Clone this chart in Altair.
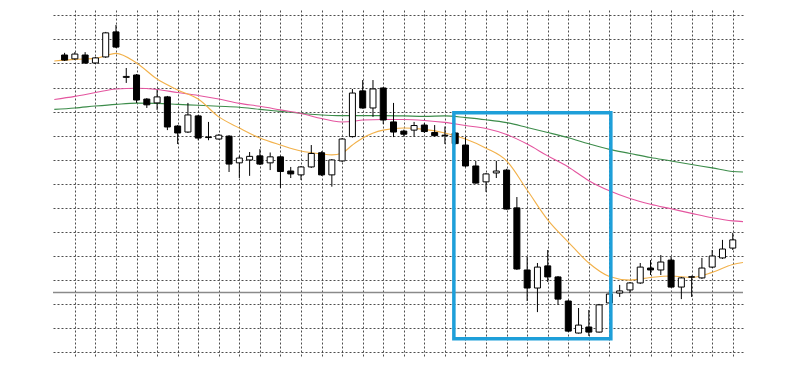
import altair as alt
import pandas as pd

# ---- candle data (index, open, high, low, close) ----
opens = [123.5, 121.9, 123.5, 120.2, 122.7, 133.1, 114.2, 115.2, 105.2, 103.6,
         106.1, 94.0, 91.5, 98.2, 89.2, 88.6, 89.8, 78.7, 79.9, 81.6,
         78.7, 81.2, 75.3, 73.7, 77.0, 82.9, 73.7, 79.5, 89.6, 108.6,
         101.5, 109.8, 95.7, 91.9, 92.3, 94.4, 91.3, 90.0, 91.1, 86.1,
         77.4, 70.8, 74.5, 75.7, 60.0, 34.2, 26.7, 35.9, 31.3, 21.3,
         8.0, 10.5, 8.4, 20.5, 24.6, 25.9, 28.8, 35.0, 34.2, 38.3,
         27.1, 31.2, 30.9, 35.4, 39.2, 43.3]
highs = [124.4, 124.7, 124.7, 122.7, 133.1, 136.0, 118.1, 115.6, 105.6, 109.0,
         106.5, 94.4, 103.6, 98.6, 95.7, 90.6, 90.2, 81.6, 83.2, 84.4,
         83.0, 81.6, 77.0, 77.4, 86.1, 83.5, 80.3, 89.0, 109.4, 113.1,
         113.1, 110.2, 103.6, 92.5, 95.7, 95.2, 94.4, 93.8, 91.5, 89.4,
         79.5, 74.5, 79.5, 76.2, 64.5, 39.6, 37.1, 42.5, 31.7, 21.7,
         18.4, 17.6, 20.1, 25.9, 28.0, 29.2, 37.1, 38.3, 40.4, 39.6,
         31.3, 31.8, 39.2, 42.5, 46.7, 49.6]
lows = [121.0, 121.4, 119.8, 119.8, 122.3, 126.4, 111.9, 103.6, 101.5, 100.7,
        92.3, 86.5, 91.1, 88.1, 88.1, 88.4, 74.9, 72.4, 73.3, 77.8,
        75.7, 68.3, 72.4, 71.6, 76.6, 73.3, 68.8, 79.0, 89.2, 101.2,
        97.8, 94.8, 89.4, 89.6, 89.6, 91.1, 89.6, 86.5, 86.3, 77.0,
        70.1, 66.6, 72.4, 59.3, 34.2, 21.3, 16.7, 29.2, 19.7, 8.4,
        7.8, 6.8, 8.2, 20.1, 23.0, 24.6, 28.4, 32.1, 32.1, 26.9,
        22.1, 23.0, 30.5, 35.0, 38.8, 42.5]
closes = [121.4, 123.9, 120.2, 122.3, 132.7, 126.8, 114.6, 104.8, 102.8, 106.1,
          93.6, 91.1, 98.6, 89.0, 89.4, 90.2, 78.2, 80.7, 81.4, 78.2,
          81.2, 75.1, 74.1, 77.0, 82.6, 73.7, 79.9, 88.6, 107.7, 101.5,
          109.4, 96.5, 91.5, 90.6, 94.2, 91.7, 90.0, 90.2, 86.7, 77.4,
          70.3, 74.1, 75.3, 59.5, 34.6, 26.7, 35.4, 31.3, 22.1, 8.8,
          11.3, 8.4, 19.7, 24.2, 25.5, 28.8, 35.4, 34.2, 37.5, 27.1,
          30.9, 31.4, 35.0, 40.0, 42.9, 46.7]

# ---- moving averages ----
ma_idx = [-1, 1, 3, 5, 7, 9, 11, 13, 15, 17, 19, 21, 23, 25, 26, 27, 28, 29, 31,
          33, 35, 37, 39, 41, 43, 45, 47, 49, 51, 53, 55, 57, 59, 61, 63, 65, 66]
ma_fast = [121.0, 121.7, 122.1, 124.2, 120.2, 113.5, 109.0, 105.2, 97.8, 93.2,
           89.0, 86.1, 83.6, 82.4, 82.0, 82.8, 86.1, 89.0, 92.3, 93.2,
           92.6, 91.1, 88.6, 84.8, 79.5, 67.4, 55.0, 45.8, 37.1, 31.5,
           30.0, 31.1, 31.7, 31.1, 33.2, 36.5, 37.3]
ma_mid = [105.0, 106.3, 107.9, 109.4, 109.7, 109.2, 107.9, 106.7, 105.2, 103.4,
          102.2, 100.7, 99.2, 97.1, 96.2, 95.7, 95.9, 96.5, 96.7, 96.7,
          96.3, 95.5, 94.2, 93.0, 90.5, 86.5, 81.6, 77.0, 71.3, 67.1,
          63.9, 61.5, 59.6, 57.7, 55.9, 54.6, 54.3]
ma_slow = [100.9, 101.5, 102.3, 103.0, 103.5, 103.4, 103.0, 102.6, 102.2, 101.8,
           100.9, 100.1, 99.3, 98.6, 98.4, 98.3, 98.3, 98.3, 98.3, 98.2,
           98.0, 98.2, 97.5, 96.6, 95.4, 93.4, 91.3, 89.1, 86.6, 84.3,
           82.6, 80.9, 79.5, 78.0, 76.6, 75.1, 74.9]

level = [24.8]                      # grey horizontal price line
box_x = [37.87, 53.14]              # highlighted region (candle index)
box_y = [5.65, 99.55]               # highlighted region (price)

x_ticks = list(range(1, 66, 2))
y_ticks = list(range(0, 141, 10))

n = len(opens)
candles = pd.DataFrame({
    "i": list(range(n)),
    "open": opens, "high": highs, "low": lows, "close": closes,
})
candles["lo"] = candles[["open", "close"]].min(axis=1)
candles["hi"] = candles[["open", "close"]].max(axis=1)
candles["fill"] = ["white" if c >= o else "black" for o, c in zip(opens, closes)]

ma_rows = []
for name, vals, col in [("slow", ma_slow, "#3c8c4a"), ("mid", ma_mid, "#e4559f"), ("fast", ma_fast, "#f2b14a")]:
    for k, v in zip(ma_idx, vals):
        ma_rows.append({"i": k, "v": v, "s": name, "c": col})
ma = pd.DataFrame(ma_rows)

xscale = alt.Scale(domain=[-0.64, 65.51], nice=False, zero=False)
yscale = alt.Scale(domain=[-1.54, 142.2], nice=False, zero=False)

grid_kw = dict(grid=True, labels=False, ticks=False, domain=False, title=None,
               gridDash=[2, 2], gridColor="#3a3a3a", gridWidth=1, gridOpacity=0.9)
xaxis = alt.Axis(values=x_ticks, **grid_kw)
yaxis = alt.Axis(values=y_ticks, **grid_kw)


def xe(field):
    return alt.X(field, scale=xscale, axis=xaxis)


def ye(field):
    return alt.Y(field, scale=yscale, axis=yaxis)


lines = alt.Chart(ma).mark_line(strokeWidth=1.1, interpolate="monotone", clip=True).encode(
    x=xe("i:Q"), y=ye("v:Q"), detail="s:N", color=alt.Color("c:N", scale=None)
)

wicks = alt.Chart(candles).mark_rule(color="black", strokeWidth=1).encode(
    x=xe("i:Q"),
    y=ye("low:Q"),
    y2="high:Q",
)

bodies = alt.Chart(candles).mark_bar(size=6, stroke="black", strokeWidth=1).encode(
    x=xe("i:Q"),
    y=ye("lo:Q"),
    y2="hi:Q",
    fill=alt.Fill("fill:N", scale=None),
)

hline = alt.Chart(pd.DataFrame({"v": level})).mark_rule(color="#8a8a8a", strokeWidth=1.5).encode(
    y=ye("v:Q")
)

box = alt.Chart(pd.DataFrame({"x1": [box_x[0]], "x2": [box_x[1]], "y1": [box_y[0]], "y2": [box_y[1]]})).mark_rect(
    fill="white", fillOpacity=0, stroke="#1e9fd9", strokeWidth=3.5
).encode(
    x=xe("x1:Q"), x2="x2:Q",
    y=ye("y1:Q"), y2="y2:Q",
)

chart = alt.layer(lines, hline, wicks, bodies, box).properties(
    width=690, height=346,
    autosize=alt.AutoSizeParams(type="none"),
    padding={"left": 53, "top": 10, "right": 57, "bottom": 9},
    background="white",
).configure_view(strokeWidth=0)

chart.save("out.html", embed_options={"renderer": "svg", "actions": False})
